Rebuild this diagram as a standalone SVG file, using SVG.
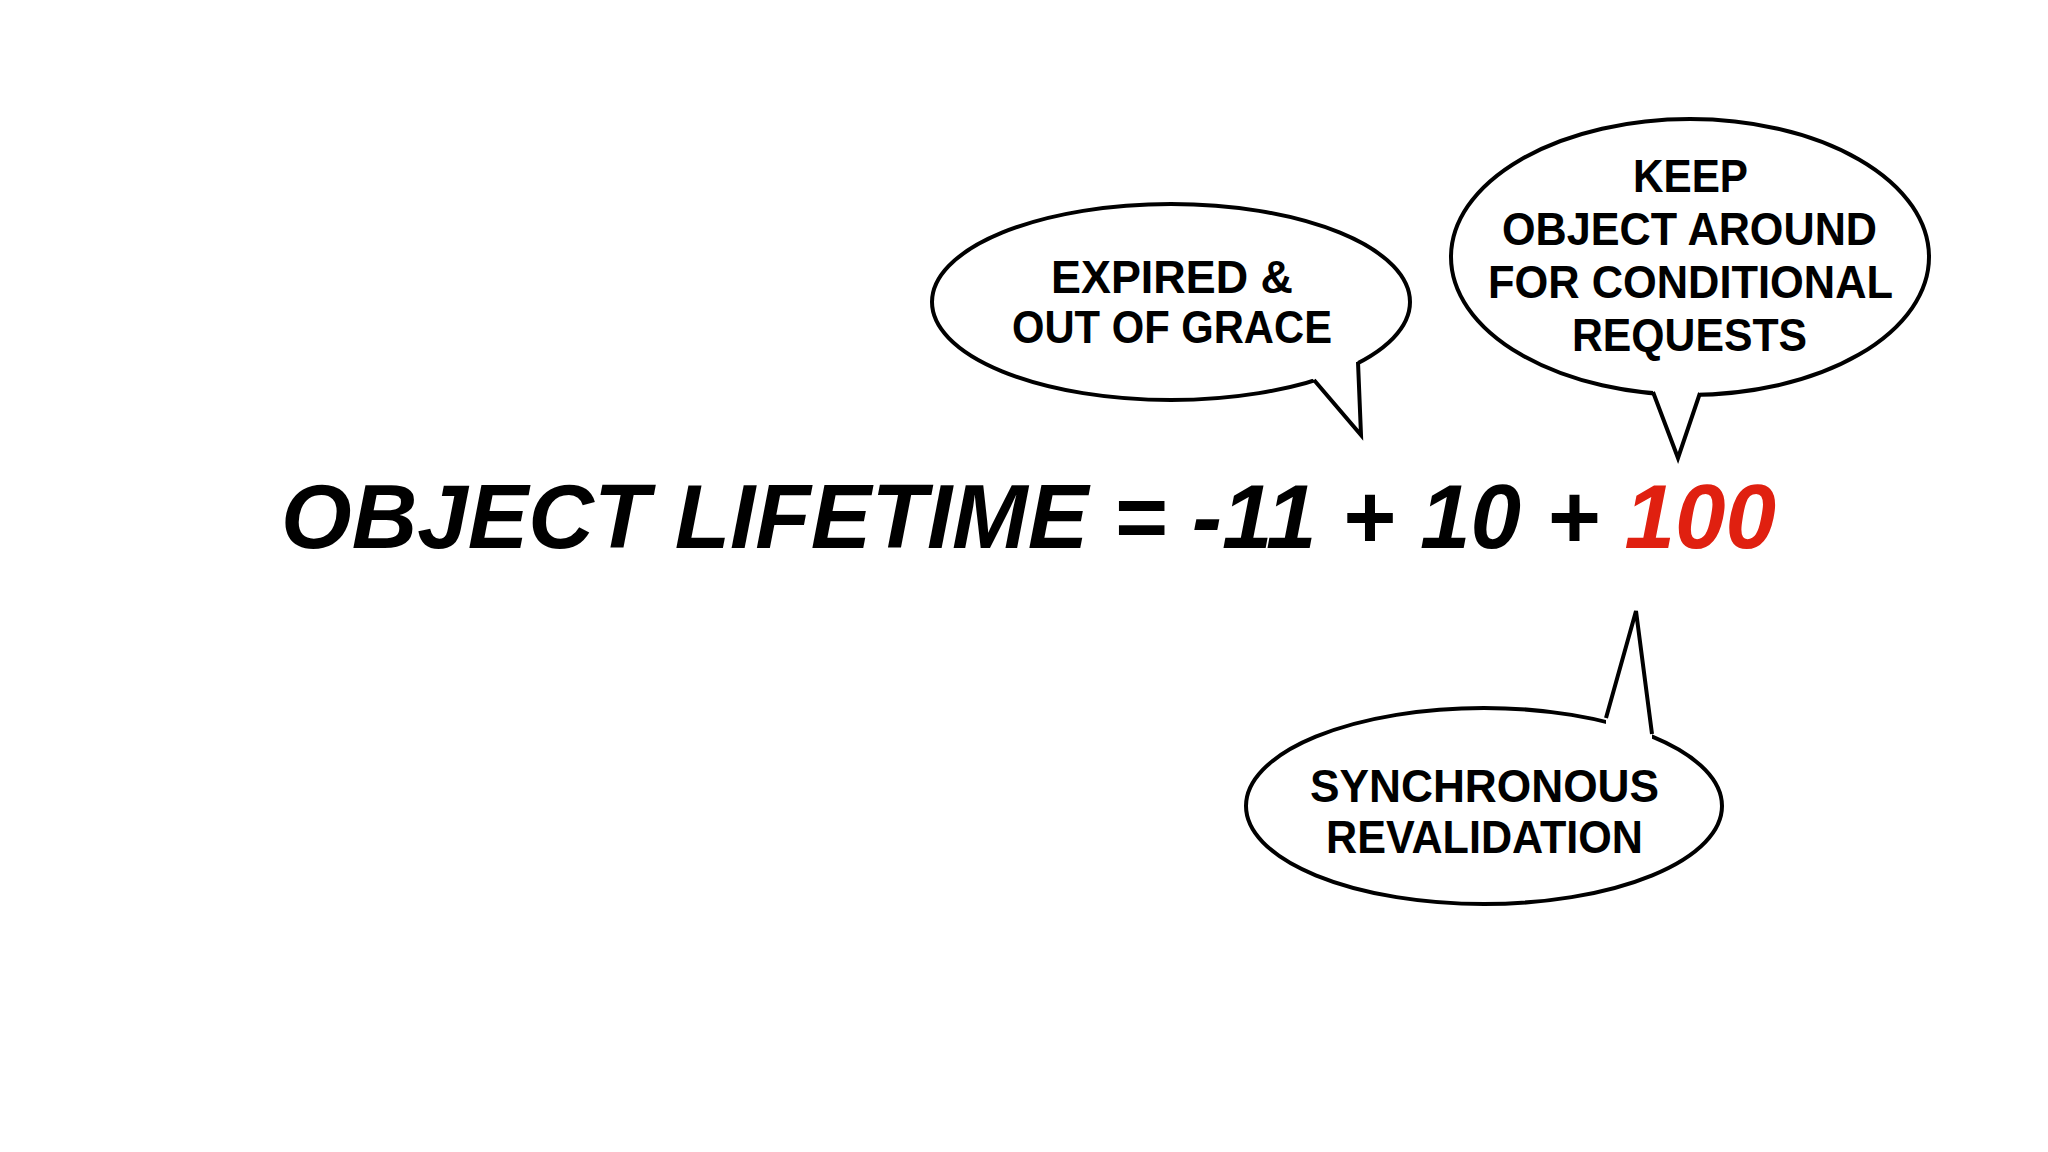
<svg xmlns="http://www.w3.org/2000/svg" width="2048" height="1152" viewBox="0 0 2048 1152">
<style>
.b{fill:#fff;stroke:#000;stroke-width:4}
.t{fill:#fff;stroke:none}
.s{fill:none;stroke:#000;stroke-width:4;stroke-linejoin:miter}
.l{font-family:"Liberation Sans",Arial,sans-serif;font-weight:bold;font-size:46px;fill:#000}
.m{font-family:"Liberation Sans",Arial,sans-serif;font-weight:bold;font-style:italic;font-size:90px;fill:#000}
</style>
<rect width="2048" height="1152" fill="#fff"/>
<text class="m" x="281" y="548" textLength="1495" lengthAdjust="spacingAndGlyphs">OBJECT LIFETIME = -11 + 10 + <tspan fill="#e02010">100</tspan></text>
<g id="bubble1">
<ellipse class="b" cx="1171" cy="302" rx="239" ry="98"/>
<polygon class="t" points="1300,370 1314,380 1361,435 1358,362 1350,355"/>
<polyline class="s" points="1314,380 1361,435 1358,362"/>
<text class="l" x="1051" y="293" textLength="242" lengthAdjust="spacingAndGlyphs">EXPIRED &amp;</text>
<text class="l" x="1012" y="343" textLength="320" lengthAdjust="spacingAndGlyphs">OUT OF GRACE</text>
</g>
<g id="bubble2">
<ellipse class="b" cx="1690" cy="257" rx="239" ry="138"/>
<polygon class="t" points="1653,385 1653,392 1678,458 1700,393 1700,385"/>
<polyline class="s" points="1653,392 1678,458 1700,393"/>
<text class="l" x="1633" y="192" textLength="115" lengthAdjust="spacingAndGlyphs">KEEP</text>
<text class="l" x="1502" y="245" textLength="375" lengthAdjust="spacingAndGlyphs">OBJECT AROUND</text>
<text class="l" x="1488" y="298" textLength="405" lengthAdjust="spacingAndGlyphs">FOR CONDITIONAL</text>
<text class="l" x="1572" y="351" textLength="235" lengthAdjust="spacingAndGlyphs">REQUESTS</text>
</g>
<g id="bubble3">
<ellipse class="b" cx="1484" cy="806" rx="238" ry="98"/>
<polygon class="t" points="1606,725 1606,718 1636,611 1652,734 1652,745"/>
<polyline class="s" points="1606,718 1636,611 1652,734"/>
<text class="l" x="1310" y="802" textLength="349" lengthAdjust="spacingAndGlyphs">SYNCHRONOUS</text>
<text class="l" x="1326" y="853" textLength="317" lengthAdjust="spacingAndGlyphs">REVALIDATION</text>
</g>
<g id="connectors"/>
</svg>
